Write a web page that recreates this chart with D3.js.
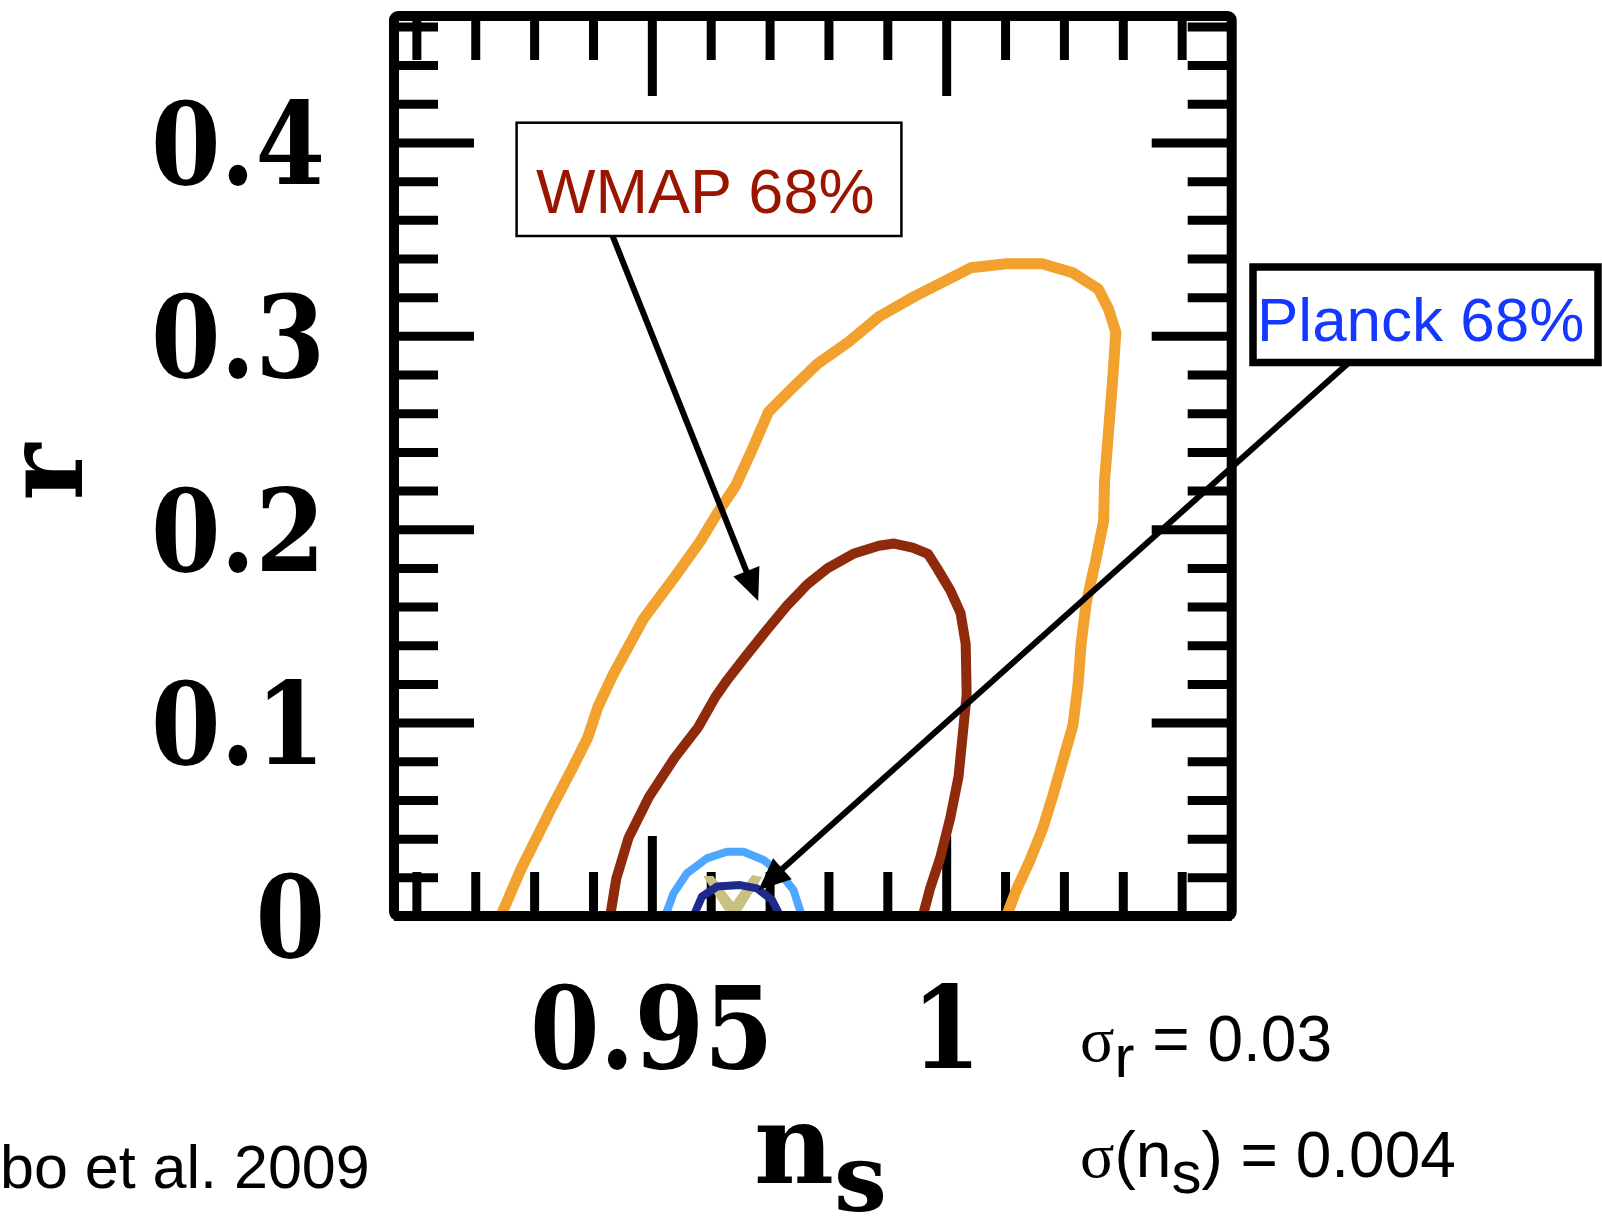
<!DOCTYPE html>
<html lang="en">
<head>
<meta charset="UTF-8">
<title>r vs n_s</title>
<script src="https://d3js.org/d3.v7.min.js"></script>
<style>
  html, body { margin: 0; padding: 0; background: #fff; }
  svg { display: block; }
</style>
</head>
<body>
<svg id="chart" width="1602" height="1226"></svg>
<script>
// tick values and labels
const nsMajor = [0.95, 1.00];
const nsLabels = ["0.95", "1"];
const nsMinor = [0.91, 0.92, 0.93, 0.94, 0.96, 0.97, 0.98, 0.99, 1.01, 1.02, 1.03, 1.04];
const rMajor = [0, 0.1, 0.2, 0.3, 0.4];
const rLabels = ["0", "0.1", "0.2", "0.3", "0.4"];
const rMinor = [0.02, 0.04, 0.06, 0.08, 0.12, 0.14, 0.16, 0.18, 0.22, 0.24, 0.26, 0.28,
                0.32, 0.34, 0.36, 0.38, 0.42, 0.44, 0.46];

// contours, [n_s, r]
const wmapOuter = [
  [0.92435, 0], [0.92782, 0.0246], [0.93303, 0.0563], [0.93650, 0.0764], [0.93910, 0.0922],
  [0.94084, 0.1081], [0.94344, 0.1250], [0.94865, 0.1540], [0.95385, 0.1752], [0.95819, 0.1936],
  [0.96114, 0.2084], [0.96427, 0.2227], [0.96687, 0.2401], [0.96982, 0.2607], [0.97381, 0.2729],
  [0.97815, 0.2856], [0.98335, 0.2967], [0.98856, 0.3099], [0.99463, 0.3204], [0.99984, 0.3284],
  [1.00418, 0.3352], [1.01025, 0.3373], [1.01633, 0.3373], [1.02153, 0.3326], [1.02587, 0.3241],
  [1.02761, 0.3136], [1.02882, 0.3019], [1.02830, 0.2782], [1.02761, 0.2518], [1.02691, 0.2253],
  [1.02674, 0.2042], [1.02535, 0.1831], [1.02379, 0.1619], [1.02292, 0.1408], [1.02240, 0.1197],
  [1.02153, 0.0986], [1.01980, 0.0801], [1.01806, 0.0616], [1.01633, 0.0447], [1.01424, 0.0288],
  [1.01199, 0.0140], [1.01025, 0]
];
const wmapInner = [
  [0.94292, 0], [0.94396, 0.0193], [0.94604, 0.0404], [0.94952, 0.0616], [0.95385, 0.0817],
  [0.95785, 0.0975], [0.96080, 0.1133], [0.96288, 0.1223], [0.96600, 0.1345], [0.96947, 0.1477],
  [0.97294, 0.1604], [0.97641, 0.1715], [0.97988, 0.1799], [0.98422, 0.1873], [0.98856, 0.1915],
  [0.99116, 0.1926], [0.99429, 0.1905], [0.99689, 0.1873], [0.99845, 0.1799], [1.00071, 0.1683],
  [1.00244, 0.1567], [1.00331, 0.1408], [1.00348, 0.1144], [1.00279, 0.0933], [1.00210, 0.0721],
  [1.00071, 0.0510], [0.99897, 0.0299], [0.99724, 0.0140], [0.99602, 0]
];
const planckOuter = [
  [0.95227, 0], [0.95368, 0.0117], [0.95596, 0.0221], [0.95935, 0.0298], [0.96275, 0.0332],
  [0.96557, 0.0332], [0.96897, 0.0290], [0.97180, 0.0221], [0.97406, 0.0134], [0.97549, 0]
];
const planckInner = [
  [0.95708, 0], [0.95851, 0.0100], [0.96105, 0.0152], [0.96501, 0.0160], [0.96785, 0.0143],
  [0.97040, 0.0083], [0.97180, 0]
];
const fiducialRegion = [
  [0.95873, 0.0207], [0.96042, 0.0207], [0.96382, 0.0072], [0.96705, 0.0212],
  [0.96875, 0.0202], [0.96467, 0], [0.96297, 0]
];

// arrow tips [n_s, r]
const wmapArrowTip = [0.96807, 0.1629];
const planckArrowTip = [0.96812, 0.0134];

const svg = d3.select("#chart");
const plotLeft = 394, plotRight = 1231.7, plotTop = 16, plotBottom = 916;

const x = d3.scaleLinear().domain([0.9062, 1.0485]).range([plotLeft, plotRight]);
const y = d3.scaleLinear().domain([0, 0.4654]).range([plotBottom, plotTop]);

const serif = "'DejaVu Serif', 'Liberation Serif', serif";
const sans = "'Liberation Sans', Arial, Helvetica, sans-serif";

svg.append("rect").attr("width", 1602).attr("height", 1226).attr("fill", "#fff");

// ticks on all four sides, pointing inward
function ticks(axisFn, scale, values, size, transform) {
    const g = svg.append("g")
        .attr("transform", transform)
        .call(axisFn(scale).tickValues(values).tickSize(size).tickFormat(""));
    g.select(".domain").remove();
    g.selectAll(".tick line").attr("stroke", "#000").attr("stroke-width", 9);
    return g;
}
ticks(d3.axisBottom, x, nsMinor, -44, `translate(0,${plotBottom})`);
ticks(d3.axisBottom, x, nsMajor, -80, `translate(0,${plotBottom})`);
ticks(d3.axisTop, x, nsMinor, -44, `translate(0,${plotTop})`);
ticks(d3.axisTop, x, nsMajor, -80, `translate(0,${plotTop})`);
ticks(d3.axisLeft, y, rMinor, -44, `translate(${plotLeft},0)`);
ticks(d3.axisLeft, y, rMajor, -80, `translate(${plotLeft},0)`);
ticks(d3.axisRight, y, rMinor, -44, `translate(${plotRight},0)`);
ticks(d3.axisRight, y, rMajor, -80, `translate(${plotRight},0)`);

// tick labels
svg.append("g").selectAll("text")
    .data(rMajor)
    .join("text")
    .attr("transform", d => `translate(325,${y(d)}) scale(0.87,1)`)
    .attr("dy", "0.36em")
    .attr("text-anchor", "end")
    .attr("font-family", serif)
    .attr("font-weight", "bold")
    .attr("font-size", 115)
    .text((d, i) => rLabels[i]);

svg.append("g").selectAll("text")
    .data(nsMajor)
    .join("text")
    .attr("transform", d => `translate(${x(d)},1068) scale(0.87,1)`)
    .attr("text-anchor", "middle")
    .attr("font-family", serif)
    .attr("font-weight", "bold")
    .attr("font-size", 115)
    .text((d, i) => nsLabels[i]);

// axis titles
svg.append("text")
    .attr("transform", "translate(82,472) rotate(-90)")
    .attr("text-anchor", "middle")
    .attr("font-family", serif)
    .attr("font-weight", "bold")
    .attr("font-size", 108)
    .text("r");

const nsTitle = svg.append("text")
    .attr("x", 754).attr("y", 1183)
    .attr("font-family", serif)
    .attr("font-weight", "bold")
    .attr("font-size", 110);
nsTitle.append("tspan").text("n");
nsTitle.append("tspan").attr("dy", 28).attr("font-size", 94).text("s");

// contours
const line = d3.line().x(d => x(d[0])).y(d => y(d[1]));

svg.append("path")
    .datum(fiducialRegion)
    .attr("d", d => line(d) + "Z")
    .attr("fill", "#c9c084");

const contours = [
    { data: wmapOuter, color: "#f2a12e", width: 11 },
    { data: wmapInner, color: "#8f2a0c", width: 10 },
    { data: planckOuter, color: "#4da6ff", width: 8 },
    { data: planckInner, color: "#1e2b8c", width: 8 }
];
svg.append("g").selectAll("path")
    .data(contours)
    .join("path")
    .attr("d", d => line(d.data))
    .attr("fill", "none")
    .attr("stroke", d => d.color)
    .attr("stroke-width", d => d.width)
    .attr("stroke-linejoin", "round");

// frame
svg.append("rect")
    .attr("x", plotLeft).attr("y", plotTop)
    .attr("width", plotRight - plotLeft).attr("height", plotBottom - plotTop)
    .attr("rx", 4)
    .attr("fill", "none")
    .attr("stroke", "#000")
    .attr("stroke-width", 10);

// annotations
function arrow(x0, y0, x1, y1) {
    const a = Math.atan2(y1 - y0, x1 - x0);
    const len = 32, half = 14;
    const bx = x1 - len * Math.cos(a), by = y1 - len * Math.sin(a);
    svg.append("line")
        .attr("x1", x0).attr("y1", y0)
        .attr("x2", bx + 4 * Math.cos(a)).attr("y2", by + 4 * Math.sin(a))
        .attr("stroke", "#000").attr("stroke-width", 6);
    svg.append("path")
        .attr("d", `M${x1},${y1}L${bx - half * Math.sin(a)},${by + half * Math.cos(a)}` +
                   `L${bx + half * Math.sin(a)},${by - half * Math.cos(a)}Z`)
        .attr("fill", "#000");
}

const wmapBox = { x: 516.6, y: 122.7, w: 384.8, h: 113.3 };
svg.append("rect")
    .attr("x", wmapBox.x).attr("y", wmapBox.y)
    .attr("width", wmapBox.w).attr("height", wmapBox.h)
    .attr("fill", "#fff").attr("stroke", "#000").attr("stroke-width", 2.5);
svg.append("text")
    .attr("x", 536).attr("y", 213)
    .attr("font-family", sans).attr("font-size", 63)
    .attr("fill", "#991500")
    .text("WMAP 68%");
arrow(wmapBox.x + 96, wmapBox.y + wmapBox.h, x(wmapArrowTip[0]), y(wmapArrowTip[1]));

const planckBox = { x: 1253, y: 267, w: 345, h: 95.5 };
svg.append("rect")
    .attr("x", planckBox.x).attr("y", planckBox.y)
    .attr("width", planckBox.w).attr("height", planckBox.h)
    .attr("fill", "#fff").attr("stroke", "#000").attr("stroke-width", 7.5);
svg.append("text")
    .attr("x", 1257).attr("y", 341)
    .attr("font-family", sans).attr("font-size", 62)
    .attr("fill", "#1438ff")
    .text("Planck 68%");
arrow(planckBox.x + 96, planckBox.y + planckBox.h, x(planckArrowTip[0]), y(planckArrowTip[1]));

// sigma notes
const s1 = svg.append("text").attr("x", 1080).attr("y", 1061)
    .attr("font-family", sans).attr("font-size", 64).attr("fill", "#000");
s1.append("tspan").attr("font-family", "'Liberation Serif', serif").text("σ");
s1.append("tspan").attr("dy", 16).attr("font-size", 60).text("r");
s1.append("tspan").attr("dy", -16).text(" = 0.03");

const s2 = svg.append("text").attr("x", 1080).attr("y", 1177)
    .attr("font-family", sans).attr("font-size", 64).attr("fill", "#000");
s2.append("tspan").attr("font-family", "'Liberation Serif', serif").text("σ");
s2.append("tspan").text("(n");
s2.append("tspan").attr("dy", 16).attr("font-size", 60).text("s");
s2.append("tspan").attr("dy", -16).text(") = 0.004");

svg.append("text")
    .attr("x", 0).attr("y", 1188)
    .attr("font-family", sans).attr("font-size", 61)
    .text("bo et al. 2009");
</script>
</body>
</html>
